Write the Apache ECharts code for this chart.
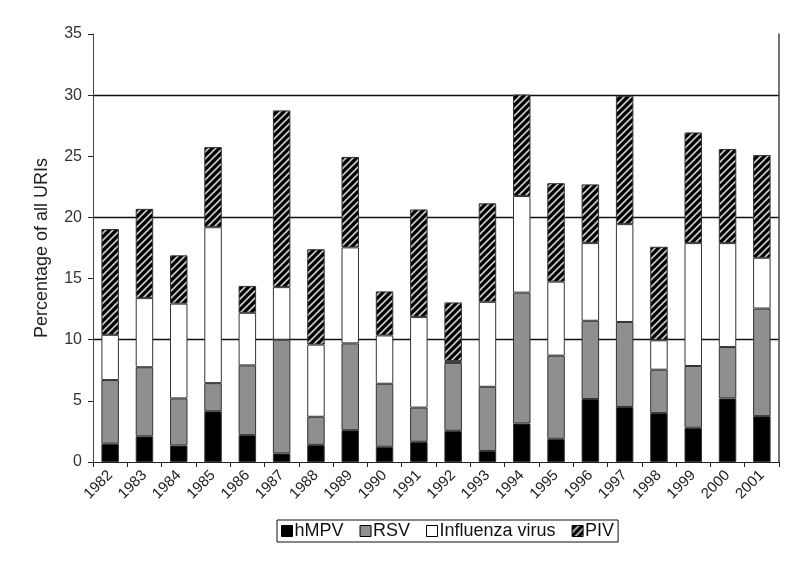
<!DOCTYPE html>
<html>
<head>
<meta charset="utf-8">
<script src="https://cdn.jsdelivr.net/npm/echarts@6/dist/echarts.min.js"></script>
<style>html,body{margin:0;padding:0;background:#fff}#c{width:800px;height:562px}</style>
</head>
<body>
<div id="c"></div>
<script>
const years = ['1982','1983','1984','1985','1986','1987','1988','1989','1990','1991','1992','1993','1994','1995','1996','1997','1998','1999','2000','2001'];
// segment heights
const hMPV = [1.5, 2.1, 1.35, 4.15, 2.2, 0.7, 1.4, 2.6, 1.25, 1.65, 2.55, 0.9, 3.15, 1.9, 5.15, 4.5, 4.0, 2.8, 5.2, 3.75];
const RSV = [5.2, 5.65, 3.85, 2.3, 5.7, 9.3, 2.3, 7.1, 5.15, 2.8, 5.55, 5.25, 10.7, 6.8, 6.4, 6.95, 3.55, 5.05, 4.2, 8.8];
const influenza = [3.7, 5.65, 7.75, 12.75, 4.3, 4.3, 5.9, 7.85, 3.95, 7.4, 0.15, 6.95, 7.9, 6.05, 6.35, 8.0, 2.4, 10.05, 8.5, 4.15];
const PIV = [8.65, 7.3, 3.95, 6.55, 2.2, 14.45, 7.8, 7.4, 3.6, 8.8, 4.8, 8.05, 8.3, 8.05, 4.8, 10.5, 7.65, 9.05, 7.7, 8.4];
const seriesNames = ['hMPV', 'RSV', 'Influenza virus', 'PIV'];
const yTicks = [0, 5, 10, 15, 20, 25, 30, 35];

const font = '"Liberation Sans", Arial, sans-serif';

function hatch() {
  const c = document.createElement('canvas');
  c.width = 7; c.height = 7;
  const g = c.getContext('2d');
  g.fillStyle = '#000';
  g.fillRect(0, 0, 7, 7);
  g.strokeStyle = '#c8c8c8';
  g.lineWidth = 1.7;
  g.beginPath();
  for (let k = -7; k <= 14; k += 7) {
    g.moveTo(k - 1, 8); g.lineTo(k + 8, -1);
  }
  g.stroke();
  return c;
}

const chart = echarts.init(document.getElementById('c'));
const colors = ['#000000', '#8f8f8f', '#ffffff', {image: hatch(), repeat: 'repeat'}];
const data = [hMPV, RSV, influenza, PIV];

chart.setOption({
  animation: false,
  grid: {left: 93, right: 21, top: 34, bottom: 100, containLabel: false},
  legend: {
    bottom: 20, left: 277,
    data: seriesNames,
    icon: 'rect', itemWidth: 11, itemHeight: 11, itemGap: 16,
    borderColor: '#111', borderWidth: 1, padding: [2, 4, 2, 4],
    textStyle: {fontFamily: font, fontSize: 18, color: '#111', padding: [0, 0, 0, -3]},
    itemStyle: {borderColor: '#000', borderWidth: 1}
  },
  xAxis: {
    type: 'category', data: years,
    axisLine: {lineStyle: {color: '#222', width: 1}},
    axisTick: {show: true, length: 5, alignWithLabel: false, lineStyle: {color: '#222'}},
    axisLabel: {rotate: 45, fontFamily: font, fontSize: 15, color: '#222', margin: 11, interval: 0}
  },
  yAxis: [{
    type: 'value', min: 0, max: 35, interval: 5,
    name: 'Percentage of all URIs', nameLocation: 'middle', nameGap: 42,
    nameTextStyle: {fontFamily: font, fontSize: 18, color: '#222'},
    axisLine: {show: true, lineStyle: {color: '#444'}},
    axisTick: {show: true, length: 5, lineStyle: {color: '#222'}},
    axisLabel: {fontFamily: font, fontSize: 16, color: '#333', margin: 11,
      formatter: v => yTicks.includes(v) ? String(v) : ''},
    splitLine: {show: true, showMinLine: false, showMaxLine: false,
      lineStyle: {color: ['rgba(0,0,0,0)', '#111'], width: 1.3}}
  }, {
    type: 'value', min: 0, max: 35, interval: 5, position: 'right',
    axisLine: {show: true, lineStyle: {color: '#444', width: 1.5}},
    axisTick: {show: false}, axisLabel: {show: false}, splitLine: {show: false}
  }],
  series: seriesNames.map((n, i) => ({
    name: n, type: 'bar', stack: 'all', data: data[i], barWidth: '51%',
    itemStyle: {color: colors[i], borderColor: '#333', borderWidth: 1}
  }))
});
</script>
</body>
</html>
